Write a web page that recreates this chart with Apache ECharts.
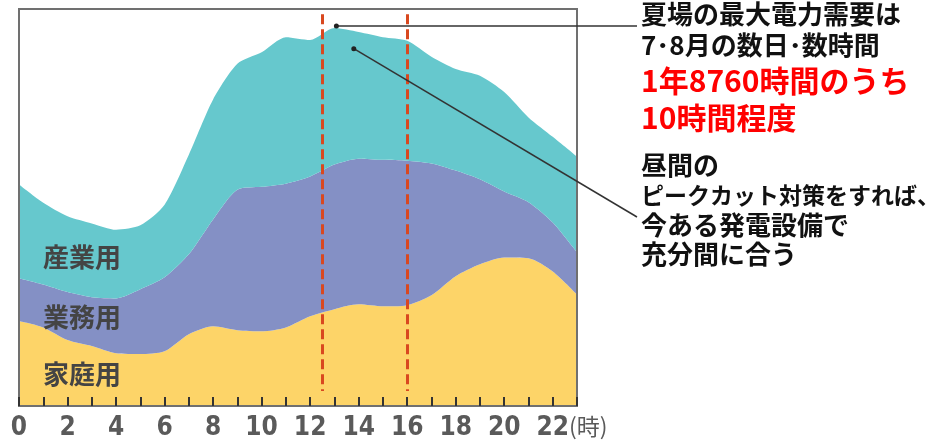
<!DOCTYPE html>
<html>
<head>
<meta charset="utf-8">
<script src="https://cdn.jsdelivr.net/npm/echarts@6/dist/echarts.min.js"></script>
<style>
html, body { margin: 0; padding: 0; background: #fff; }
#chart { width: 933px; height: 441px; }
</style>
</head>
<body>
<div id="chart"></div>
<script>
// 時刻 (0〜23時)
var hours = ['0', '1', '2', '3', '4', '5', '6', '7', '8', '9', '10', '11', '12', '13', '14', '15', '16', '17', '18', '19', '20', '21', '22', '23'];
// 用途別の電力需要（相対値、積み上げ）
var household = [21.4, 19.8, 16.6, 15.1, 13.3, 13.1, 13.8, 18.1, 20.1, 19.1, 18.8, 19.8, 22.6, 24.4, 25.6, 25.1, 25.4, 27.9, 32.7, 35.7, 37.4, 37.2, 33.9, 28.1];
var business = [10.8, 10.8, 12.1, 12.3, 13.8, 16.3, 18.6, 20.1, 26.9, 35.4, 36.4, 36.2, 35.2, 36.4, 36.7, 36.9, 36.4, 33.2, 26.6, 21.4, 16.6, 14.1, 12.3, 10.6];
var industry = [23.6, 20.6, 19.1, 18.6, 17.3, 16.1, 18.3, 25.1, 30.2, 31.7, 33.9, 36.9, 34.4, 34.4, 31.9, 30.9, 30.2, 26.9, 25.6, 26.1, 25.1, 21.4, 21.6, 24.1];
var seriesNames = ['家庭用', '業務用', '産業用'];
// ピーク時間帯（破線）
var peakWindow = [12.5, 16];

var jpFont = '"Noto Sans CJK JP", sans-serif';

var myChart = echarts.init(document.getElementById('chart'), null, { renderer: 'canvas' });

function areaSeries(name, data, color) {
    return {
        name: name,
        type: 'line',
        stack: 'total',
        smooth: 0.25,
        showSymbol: false,
        silent: true,
        lineStyle: { width: 0 },
        areaStyle: { color: color, opacity: 1 },
        data: data
    };
}

var option = {
    animation: false,
    grid: {
        left: 19, right: 356, top: 9, bottom: 34,
        show: true,
        z: 10,
        backgroundColor: 'transparent',
        borderColor: '#707070',
        borderWidth: 2
    },
    xAxis: [{
        type: 'category',
        data: hours,
        boundaryGap: false,
        z: 11,
        axisLine: { show: true, lineStyle: { color: '#707070', width: 2 } },
        axisTick: { show: true, inside: true, interval: 0, length: 9, lineStyle: { color: '#333', width: 2 } },
        splitLine: { show: false },
        axisLabel: {
            interval: 1,
            margin: 9,
            fontSize: 26,
            fontWeight: 'bold',
            fontFamily: '"DejaVu Sans Condensed", "Liberation Sans Narrow", sans-serif',
            color: '#5a5a5a'
        }
    }, {
        // 破線・注記用の数値軸（表示なし）
        type: 'value',
        min: 0,
        max: 23,
        show: false
    }],
    yAxis: {
        type: 'value',
        min: 0,
        max: 100,
        show: false
    },
    series: [
        areaSeries(seriesNames[0], household, '#fdd468'),
        areaSeries(seriesNames[1], business, '#8490c5'),
        areaSeries(seriesNames[2], industry, '#66c8cd'),
        {
            type: 'line',
            xAxisIndex: 1,
            silent: true,
            showSymbol: false,
            lineStyle: { width: 0 },
            data: [[0, 0]],
            z: 5,
            markLine: {
                silent: true,
                symbol: 'none',
                label: { show: false },
                lineStyle: { color: '#d9481f', width: 3, type: [10, 5] },
                data: peakWindow.map(function(x) {
                    return [{ coord: [x, 98.7] }, { coord: [x, 3.8] }];
                })
            }
        }
    ]
};

myChart.setOption(option);

// 注記（引き出し線とテキスト）
var totals = household.map(function(v, i) { return v + business[i] + industry[i]; });
var peakIdx = totals.indexOf(Math.max.apply(null, totals));
var peakPt = myChart.convertToPixel({ xAxisIndex: 1, yAxisIndex: 0 }, [peakIdx, totals[peakIdx]]);
var innerPt = myChart.convertToPixel({ xAxisIndex: 1, yAxisIndex: 0 }, [13.8, 90]);

function txt(x, y, s, size, color, weight) {
    return {
        type: 'text', x: x, y: y, z: 50, silent: true,
        style: {
            text: s, fontSize: size, fontWeight: weight || 'bold', fill: color,
            fontFamily: jpFont, textVerticalAlign: 'middle'
        }
    };
}

var graphics = [
    { type: 'line', z: 40, silent: true, shape: { x1: peakPt[0] + 2, y1: peakPt[1] - 2, x2: 637, y2: peakPt[1] - 2 }, style: { stroke: '#333', lineWidth: 1.5 } },
    { type: 'circle', z: 41, silent: true, shape: { cx: peakPt[0] + 2, cy: peakPt[1] - 2, r: 2.5 }, style: { fill: '#222' } },
    { type: 'line', z: 40, silent: true, shape: { x1: innerPt[0], y1: innerPt[1], x2: 637, y2: 217 }, style: { stroke: '#333', lineWidth: 1.5 } },
    { type: 'circle', z: 41, silent: true, shape: { cx: innerPt[0], cy: innerPt[1], r: 2.5 }, style: { fill: '#222' } },

    txt(43, 257, seriesNames[2], 26, '#444'),
    txt(43, 317, seriesNames[1], 26, '#444'),
    txt(43, 374, seriesNames[0], 26, '#444'),

    txt(569, 426, '(時)', 23, '#5a5a5a', 'normal'),

    txt(641, 14, '夏場の最大電力需要は', 26, '#111'),
    txt(641, 45, '7･8月の数日･数時間', 26, '#111'),
    txt(641, 81, '1年8760時間のうち', 30, '#f00'),
    txt(641, 118, '10時間程度', 30, '#f00'),
    txt(641, 165, '昼間の', 26, '#111'),
    txt(641, 195, 'ピークカット対策をすれば、', 23, '#111'),
    txt(641, 225, '今ある発電設備で', 26, '#111'),
    txt(641, 254, '充分間に合う', 26, '#111')
];

myChart.setOption({ graphic: graphics });
</script>
</body>
</html>
